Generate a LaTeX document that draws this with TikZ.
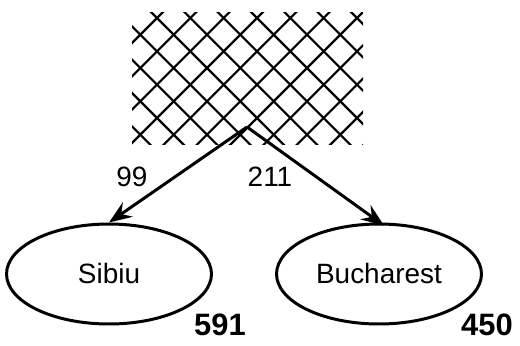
\documentclass[tikz,border=0pt]{standalone}
\usepackage{fontspec}
\setmainfont{Liberation Sans}
\usepackage{tikz, xcolor}
\usetikzlibrary{
calc, positioning,
arrows.meta, shapes,
shapes.geometric}

\begin{document}
\begin{tikzpicture}[x=0.02cm, y=-0.02cm,
city/.style={ellipse, draw=black, line width=1.7pt, minimum width=4.1cm, minimum height=2cm, inner sep=0pt, font=\fontsize{15.9}{18}\selectfont},
cost/.style={font=\fontsize{17.6}{20}\selectfont\bfseries},
weight/.style={font=\fontsize{15.9}{18}\selectfont},
hatch/.style={line width=1.25pt, color=black},
link/.style={-{Stealth[length=13pt, width=10pt, inset=4.5pt]}, line width=1.7pt, color=black}]

\useasboundingbox (0, 0) rectangle (520, 345);

% crosshatched parent
\begin{scope}
\clip (132, 12) rectangle (363, 144);
\foreach \k in {-5,...,6}
  \draw[hatch] ({139 + 33.33*\k}, 0) -- ({139 + 33.33*\k + 160}, 160);
\foreach \k in {-1,...,10}
  \draw[hatch] ({175 + 33.33*\k}, 0) -- ({175 + 33.33*\k - 160}, 160);
\end{scope}

\coordinate (parent) at (247, 127);

\node[city]
(sibiu) at (109, 274) 
{Sibiu};

\node[city]
(bucharest) at (379, 274) 
{Bucharest};

\node[weight]
(w-sibiu) at (132, 177) 
{99};

\node[weight]
(w-bucharest) at (270, 177) 
{211};

\node[cost]
(c-sibiu) at (220, 325) 
{591};

\node[cost]
(c-bucharest) at (487, 325) 
{450};

\draw[link] (parent) -- (sibiu.north);
\draw[link] (parent) -- ($(bucharest.north)+(5, 3)$);

\end{tikzpicture}
\end{document}
